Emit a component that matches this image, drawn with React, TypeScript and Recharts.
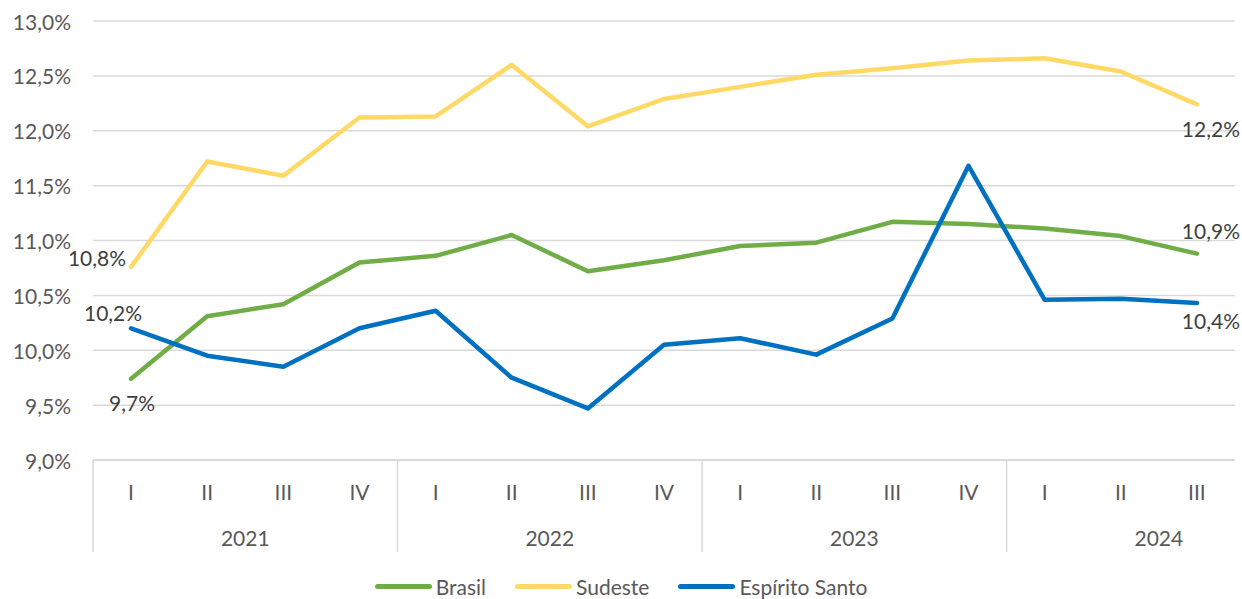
import { LineChart, Line, XAxis, YAxis, CartesianGrid, LabelList } from "recharts";

const QUARTERS = ["I", "II", "III", "IV", "I", "II", "III", "IV", "I", "II", "III", "IV", "I", "II", "III"];
const YEARS = ["2021", "2021", "2021", "2021", "2022", "2022", "2022", "2022", "2023", "2023", "2023", "2023", "2024", "2024", "2024"];

const brasil = [9.74, 10.31, 10.42, 10.80, 10.86, 11.05, 10.72, 10.82, 10.95, 10.98, 11.17, 11.15, 11.11, 11.04, 10.88];
const sudeste = [10.76, 11.72, 11.59, 12.12, 12.13, 12.60, 12.04, 12.29, 12.40, 12.51, 12.57, 12.64, 12.66, 12.54, 12.24];
const espiritoSanto = [10.20, 9.95, 9.85, 10.20, 10.36, 9.75, 9.47, 10.05, 10.11, 9.96, 10.29, 11.68, 10.46, 10.47, 10.43];

const Y_TICKS = [9, 9.5, 10, 10.5, 11, 11.5, 12, 12.5, 13];

const FONT = "Lato, 'Open Sans', sans-serif";
const FS = 21;
const TICK_COLOR = "#595959";
const LABEL_COLOR = "#404040";
const GRID = "#d9d9d9";

const W = 1242;
const H = 599;
const PLOT_LEFT = 93;
const PLOT_RIGHT = 1235;
const BAND = (PLOT_RIGHT - PLOT_LEFT) / QUARTERS.length;

const SERIES = [
  { key: "Brasil", color: "#70ad47", values: brasil },
  { key: "Sudeste", color: "#ffd966", values: sudeste },
  { key: "Espírito Santo", color: "#0070c0", values: espiritoSanto },
];

const data = QUARTERS.map((q, i) => ({
  q: `${YEARS[i]}-${q}`,
  Brasil: brasil[i],
  Sudeste: sudeste[i],
  "Espírito Santo": espiritoSanto[i],
}));

const fmt = (v: number) => `${v.toFixed(1).replace(".", ",")}%`;

function QuarterTick({ x, y, payload }: any) {
  const i = payload.index;
  const first = i === 0 || YEARS[i] !== YEARS[i - 1];
  return (
    <g>
      <text x={x} y={y + 31} textAnchor="middle" dominantBaseline="central"
        fontSize={FS} fill={TICK_COLOR} fontFamily={FONT}>{QUARTERS[i]}</text>
      {first && (
        <line x1={x - BAND / 2} x2={x - BAND / 2} y1={y} y2={y + 92} stroke={GRID} strokeWidth={1.5} />
      )}
      {first && (
        <text x={x + BAND * 1.5} y={y + 77} textAnchor="middle" dominantBaseline="central"
          fontSize={FS} fill={TICK_COLOR} fontFamily={FONT}>{YEARS[i]}</text>
      )}
    </g>
  );
}

function PctTick({ x, y, payload }: any) {
  return (
    <text x={x - 2} y={y} textAnchor="end" dominantBaseline="central"
      fontSize={FS} fill={TICK_COLOR} fontFamily={FONT}>{fmt(payload.value)}</text>
  );
}

// offsets of the first / last data labels, as in the source chart
const LABEL_POS: Record<string, { first: [number, number, string]; last: [number, number, string] }> = {
  Brasil: { first: [1, 24, "middle"], last: [14, -23, "middle"] },
  Sudeste: { first: [-5, -9, "end"], last: [14, 24, "middle"] },
  "Espírito Santo": { first: [-18, -16, "middle"], last: [14, 17, "middle"] },
};

function makeLabel(key: string) {
  return (props: any) => {
    const { x, y, value, index } = props;
    const last = QUARTERS.length - 1;
    if (index !== 0 && index !== last) return null;
    const [dx, dy, anchor] = index === 0 ? LABEL_POS[key].first : LABEL_POS[key].last;
    return (
      <text x={x + dx} y={y + dy} textAnchor={anchor as any} dominantBaseline="central"
        fontSize={FS} fill={LABEL_COLOR} fontFamily={FONT}>{fmt(value)}</text>
    );
  };
}

export default function App() {
  return (
    <div style={{ position: "absolute", left: 0, top: 0, width: W, height: H, background: "#fff" }}>
      <LineChart width={W} height={H} data={data}
        margin={{ top: 21, right: W - PLOT_RIGHT, left: 0, bottom: 47 }}>
        <CartesianGrid vertical={false} stroke={GRID} strokeWidth={1.5} />
        <XAxis dataKey="q" interval={0} height={92} tickLine={false} tickSize={0} tickMargin={0}
          axisLine={{ stroke: GRID, strokeWidth: 1.5 }} padding={{ left: BAND / 2, right: BAND / 2 }}
          tick={<QuarterTick />} />
        <YAxis width={PLOT_LEFT} domain={[9, 13]} ticks={Y_TICKS} interval={0} axisLine={false}
          tickLine={false} tickSize={0} tickMargin={20} tick={<PctTick />} />
        {SERIES.map((s) => (
          <Line key={s.key} type="linear" dataKey={s.key} stroke={s.color} strokeWidth={4.5}
            strokeLinecap="round" strokeLinejoin="round" dot={false} activeDot={false}
            isAnimationActive={false}>
            <LabelList dataKey={s.key} content={makeLabel(s.key)} />
          </Line>
        ))}
      </LineChart>
      <div style={{ position: "absolute", top: 574, left: 0, width: W, display: "flex",
        justifyContent: "center", gap: 29, fontFamily: FONT, fontSize: FS, color: TICK_COLOR }}>
        {SERIES.map((s) => (
          <div key={s.key} style={{ display: "flex", alignItems: "center", gap: 4 }}>
            <span style={{ display: "inline-block", width: 57, height: 5, borderRadius: 3, background: s.color }} />
            <span>{s.key}</span>
          </div>
        ))}
      </div>
    </div>
  );
}
